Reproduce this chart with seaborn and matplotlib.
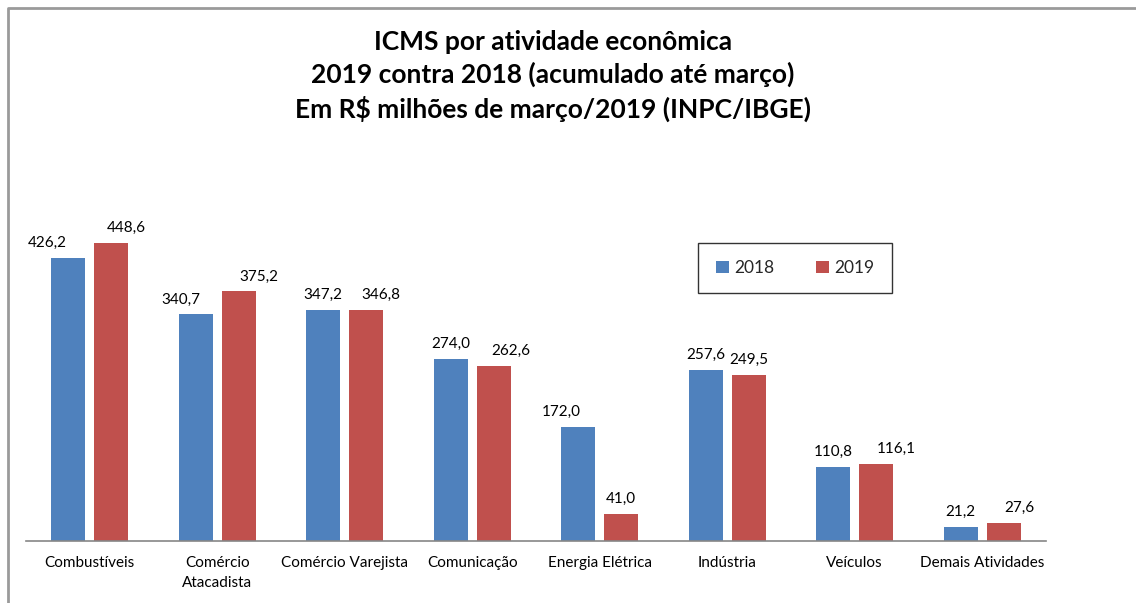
import matplotlib
matplotlib.use("Agg")
import matplotlib.pyplot as plt
from matplotlib.lines import Line2D
from matplotlib.patches import Patch
import seaborn as sns
import pandas as pd

categories = ["Combustíveis", "Comércio\nAtacadista", "Comércio Varejista", "Comunicação",
              "Energia Elétrica", "Indústria", "Veículos", "Demais Atividades"]
series_names = ["2018", "2019"]
values_2018 = [426.2, 340.7, 347.2, 274.0, 172.0, 257.6, 110.8, 21.2]
values_2019 = [448.6, 375.2, 346.8, 262.6, 41.0, 249.5, 116.1, 27.6]
title_lines = ["ICMS por atividade econômica",
               "2019 contra 2018 (acumulado até março)",
               "Em R$ milhões de março/2019 (INPC/IBGE)"]

# label horizontal nudges (pixels) to mimic the reference's label placement
label_dx_2018 = [-21, -15, 0, 0, -17, 0, 0, 0]
label_dx_2019 = [15, 20, 15, 17, 0, 0, 20, 16]

colors = {"2018": "#4F81BD", "2019": "#C0504D"}

df = pd.DataFrame({
    "categoria": categories * 2,
    "ano": [series_names[0]] * len(categories) + [series_names[1]] * len(categories),
    "valor": values_2018 + values_2019,
})

sns.set_theme(style="white")
plt.rcParams["font.family"] = ["Lato", "DejaVu Sans"]

W, H = 1136, 603
fig = plt.figure(figsize=(W / 100, H / 100), dpi=100)
ax_left, ax_right, ax_bottom, ax_top = 26, 1046, 541, 541 - 332.5
ax = fig.add_axes([ax_left / W, 1 - ax_bottom / H, (ax_right - ax_left) / W, (ax_bottom - ax_top) / H])

sns.barplot(data=df, x="categoria", y="valor", hue="ano", order=categories,
            hue_order=series_names, palette=colors, width=0.6745, gap=0.21,
            ax=ax, legend=False, saturation=1, edgecolor="none")

ax.set_ylim(0, 500)
ax.set_xlim(-0.5, len(categories) - 0.5)
ax.set_xlabel("")
ax.set_ylabel("")
ax.set_yticks([])
for s in ["top", "left", "right"]:
    ax.spines[s].set_visible(False)
ax.spines["bottom"].set_color("#868686")
ax.spines["bottom"].set_linewidth(1.2)
ax.tick_params(axis="x", length=0, pad=11, labelsize=11, colors="black")
for t in ax.get_xticklabels():
    t.set_linespacing(1.5)
    t.set_verticalalignment("top")

for cont, vals, dxs in zip(ax.containers, [values_2018, values_2019], [label_dx_2018, label_dx_2019]):
    for bar, v, dx in zip(cont, vals, dxs):
        x = bar.get_x() + bar.get_width() / 2
        ax.annotate(f"{v:.1f}".replace(".", ","), (x, bar.get_height()),
                    xytext=(dx, 15), textcoords="offset pixels",
                    ha="center", va="center", fontsize=11, color="black")

fig.text(553 / W, 1 - 76 / H, "\n".join(title_lines), ha="center", va="center",
         fontsize=19, fontweight="bold", linespacing=1.36, color="black")

handles = [Patch(facecolor=colors[s], edgecolor="none") for s in series_names]
leg = fig.legend(handles, series_names, loc="center", bbox_to_anchor=(795 / W, 1 - 268 / H),
                 ncol=2, frameon=True, fancybox=False, fontsize=12.5, handlelength=0.75,
                 handleheight=0.75, handletextpad=0.3, columnspacing=2.4, borderpad=1.0)
leg.get_frame().set_edgecolor("black")
leg.get_frame().set_linewidth(1.0)

# chart-area frame (gray, left and top)
fig.add_artist(Line2D([8 / W, 8 / W, 1.0], [0.0, 1 - 8 / H, 1 - 8 / H],
                      transform=fig.transFigure, color="#9a9a9a", linewidth=2.0))

fig.savefig("out.png", dpi=100)
